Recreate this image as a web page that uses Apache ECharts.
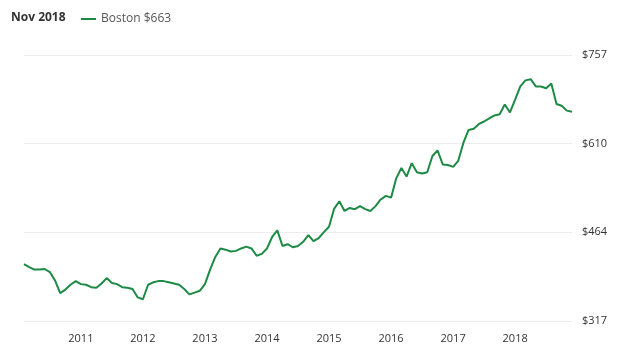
<!DOCTYPE html>
<html>
<head>
<meta charset="utf-8">
<script src="https://cdn.jsdelivr.net/npm/echarts@6/dist/echarts.min.js"></script>
<style>
html,body{margin:0;padding:0;background:#fff;}
#chart{width:640px;height:359px;}
</style>
</head>
<body>
<div id="chart"></div>
<script>
// Monthly values, Jan 2010 .. Nov 2018
const startYear = 2010;
const values = [411,406,402,402,403,398,384,363,369,377,
383,378,377,373,372,379,388,380,378,373,
372,370,356,353,377,381,383,383,381,379,
377,370,361,364,367,378,402,423,437,435,
432,433,437,440,437,425,428,437,456,467,
441,444,439,441,448,459,449,454,464,473,
503,515,499,504,502,507,502,499,507,518,
524,521,553,570,556,578,563,561,563,590,
599,576,575,572,582,612,633,635,643,647,
652,657,659,675,662,683,705,715,717,705,
705,702,710,676,673,665,663];
const monthNames = ['Jan','Feb','Mar','Apr','May','Jun','Jul','Aug','Sep','Oct','Nov','Dec'];
const categories = values.map((v, i) => monthNames[i % 12] + ' ' + (startYear + Math.floor(i / 12)));
const yearLabels = ['2011','2012','2013','2014','2015','2016','2017','2018'];
const yTicks = [317, 464, 610, 757];
const seriesName = 'Boston $663';
const titleText = 'Nov 2018';

const chart = echarts.init(document.getElementById('chart'));
const FONT = '"Open Sans", Lato, sans-serif';
chart.setOption({
  animation: false,
  textStyle: { fontFamily: FONT },
  title: {
    text: titleText, left: 6, top: 7,
    textStyle: { fontSize: 12, fontWeight: 'bold', color: '#333', fontFamily: FONT }
  },
  legend: {
    left: 76, top: 8, icon: 'rect', itemWidth: 15, itemHeight: 2, itemGap: 10,
    textStyle: { fontSize: 12, color: '#555', fontFamily: FONT },
    data: [seriesName]
  },
  grid: { left: 24, right: 68, top: 55, bottom: 38, containLabel: false },
  xAxis: {
    type: 'category', boundaryGap: false, data: categories,
    axisLine: { show: false }, axisTick: { show: false }, splitLine: { show: false },
    axisLabel: {
      interval: (idx) => idx % 12 === 11,
      formatter: (val, idx) => yearLabels[Math.floor(idx / 12)] || '',
      color: '#333', fontSize: 11, margin: 12, fontFamily: FONT
    }
  },
  yAxis: {
    type: 'value', position: 'right',
    min: yTicks[0], max: yTicks[yTicks.length - 1],
    interval: (yTicks[yTicks.length - 1] - yTicks[0]) / (yTicks.length - 1),
    axisLine: { show: false }, axisTick: { show: false },
    splitLine: { lineStyle: { color: '#ececec', width: 1 } },
    axisLabel: {
      formatter: (v) => '$' + Math.round(v),
      color: '#333', fontSize: 11, margin: 10, fontFamily: FONT
    }
  },
  series: [{
    name: seriesName, type: 'line', data: values,
    showSymbol: false, symbol: 'none',
    lineStyle: { color: '#1d8a45', width: 2 },
    itemStyle: { color: '#1d8a45' }
  }]
});
</script>
</body>
</html>
